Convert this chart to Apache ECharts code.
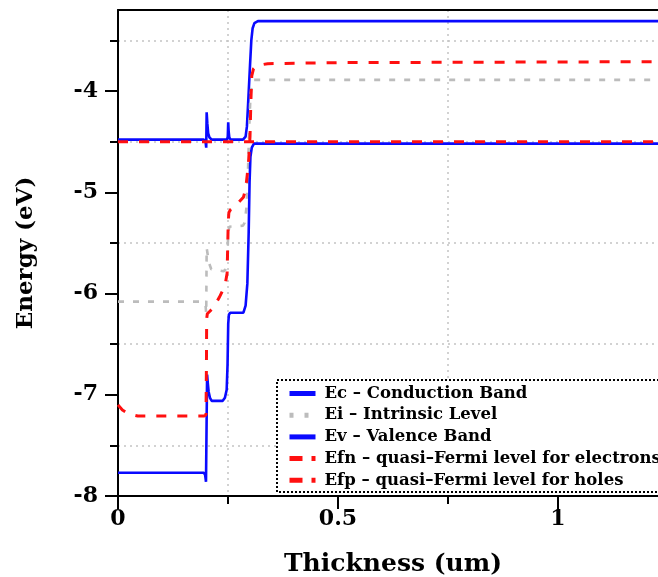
<!DOCTYPE html>
<html><head><meta charset="utf-8">
<script src="https://cdn.jsdelivr.net/npm/echarts@6/dist/echarts.min.js"></script>
<style>html,body{margin:0;padding:0;background:#fff;}#c{width:658px;height:577px;}</style>
</head><body><div id="c"></div>
<script>
// ---- data (x in um, y in eV) ----
const seriesNames = [
  'Ec \u2013 Conduction Band',
  'Ei \u2013 Intrinsic Level',
  'Ev \u2013 Valence Band',
  'Efn \u2013 quasi\u2013Fermi level for electrons',
  'Efp \u2013 quasi\u2013Fermi level for holes'
];
const ecData = [[0,-4.48],[0.195,-4.48],[0.199,-4.50],[0.2005,-4.56],[0.2015,-4.21],[0.203,-4.32],[0.205,-4.42],[0.208,-4.46],[0.213,-4.48],[0.248,-4.48],[0.2495,-4.45],[0.2505,-4.31],[0.2515,-4.40],[0.253,-4.46],[0.256,-4.48],[0.284,-4.48],[0.29,-4.45],[0.293,-4.35],[0.296,-4.1],[0.3,-3.75],[0.303,-3.5],[0.306,-3.38],[0.31,-3.33],[0.318,-3.31],[1.25,-3.31]];
const eiData = [[0,-6.08],[0.19,-6.08],[0.196,-6.09],[0.199,-6.12],[0.2005,-6.2],[0.2015,-5.55],[0.204,-5.62],[0.207,-5.7],[0.212,-5.76],[0.24,-5.78],[0.245,-5.76],[0.248,-5.7],[0.2505,-5.4],[0.253,-5.34],[0.256,-5.33],[0.284,-5.33],[0.288,-5.3],[0.292,-5.15],[0.295,-4.85],[0.298,-4.4],[0.301,-4.05],[0.304,-3.93],[0.308,-3.89],[1.25,-3.89]];
const evData = [[0,-7.77],[0.195,-7.77],[0.198,-7.79],[0.2,-7.86],[0.2015,-7.86],[0.2025,-6.80],[0.204,-6.88],[0.206,-6.97],[0.209,-7.03],[0.213,-7.06],[0.238,-7.06],[0.243,-7.03],[0.247,-6.95],[0.249,-6.7],[0.2505,-6.3],[0.252,-6.21],[0.255,-6.19],[0.285,-6.19],[0.29,-6.12],[0.294,-5.9],[0.297,-5.4],[0.299,-4.9],[0.301,-4.65],[0.304,-4.56],[0.309,-4.52],[1.25,-4.52]];
const efnData = [[0,-4.50],[0.3,-4.50],[0.7,-4.50],[1.25,-4.50]];
const efpData = [[0,-7.1],[0.01,-7.15],[0.025,-7.19],[0.045,-7.21],[0.195,-7.21],[0.2,-7.2],[0.201,-6.7],[0.2015,-6.25],[0.203,-6.2],[0.21,-6.17],[0.22,-6.12],[0.23,-6.04],[0.238,-5.97],[0.244,-5.9],[0.248,-5.8],[0.2505,-5.3],[0.252,-5.2],[0.256,-5.17],[0.27,-5.12],[0.285,-5.05],[0.29,-4.97],[0.294,-4.82],[0.297,-4.68],[0.3,-4.45],[0.302,-4.1],[0.304,-3.85],[0.308,-3.78],[0.315,-3.75],[0.34,-3.73],[0.5,-3.72],[1.25,-3.71]];
const yMajorTicks = [-8,-7,-6,-5,-4];
const yMinorTicks = [-7.5,-6.5,-5.5,-4.5,-3.5];
const xMajorTicks = [0,0.5,1];
const xMinorTicks = [0.25,0.75,1.25];

// ---- styling ----
const FONT = "'DejaVu Serif', 'Liberation Serif', serif";
const BLUE = '#0a0aff', RED = '#ff1010', GRAY = '#bcbcbc';
const gridLine = {show:true, lineStyle:{color:'#c4c4c4', width:1.5, type:[2,4]}};
const labelStyle = {fontFamily:FONT, fontWeight:'bold', fontSize:22, color:'#000'};

const chart = echarts.init(document.getElementById('c'), null, {renderer:'canvas'});
chart.setOption({
  animation:false,
  backgroundColor:'#fff',
  grid:{left:118, top:10, width:550, height:486, outerBoundsMode:'none', containLabel:false, show:false},
  xAxis:[{
    type:'value', min:0, max:1.25, interval:0.25, position:'bottom',
    axisLine:{show:true, onZero:false, lineStyle:{color:'#000', width:2}},
    axisTick:{show:true, customValues:xMinorTicks, length:8, lineStyle:{color:'#000', width:2}},
    axisLabel:Object.assign({customValues:xMajorTicks, margin:12}, labelStyle),
    splitLine:gridLine,
    name:'Thickness (um)', nameLocation:'middle', nameGap:56,
    nameTextStyle:{fontFamily:FONT, fontWeight:'bold', fontSize:25, color:'#000'}
  },{
    type:'value', min:0, max:1.25, interval:0.25, position:'bottom',
    axisLine:{show:false, onZero:false},
    axisTick:{show:true, customValues:xMajorTicks, length:13, lineStyle:{color:'#000', width:2}},
    axisLabel:{show:false}, splitLine:{show:false}
  },{
    type:'value', min:0, max:1.25, interval:0.25, position:'top',
    axisLine:{show:true, onZero:false, lineStyle:{color:'#000', width:2}},
    axisTick:{show:false}, axisLabel:{show:false}, splitLine:{show:false}
  }],
  yAxis:[{
    type:'value', min:-8, max:-3.2, interval:0.5, position:'left',
    axisLine:{show:true, onZero:false, lineStyle:{color:'#000', width:2}},
    axisTick:{show:true, customValues:yMinorTicks, length:8, lineStyle:{color:'#000', width:2}},
    axisLabel:Object.assign({customValues:yMajorTicks, margin:20}, labelStyle),
    splitLine:gridLine,
    name:'Energy (eV)', nameLocation:'middle', nameGap:80,
    nameTextStyle:{fontFamily:FONT, fontWeight:'bold', fontSize:23, color:'#000'}
  },{
    type:'value', min:-8, max:-3.2, interval:0.5, position:'left',
    axisLine:{show:false, onZero:false},
    axisTick:{show:true, customValues:yMajorTicks, length:13, lineStyle:{color:'#000', width:2}},
    axisLabel:{show:false}, splitLine:{show:false}
  }],
  graphic:[{
    type:'rect', z:3, silent:true,
    shape:{x:277, y:380, width:440, height:112},
    style:{fill:'#fff', stroke:'#000', lineWidth:2, lineDash:[2,2]}
  }],
  legend:{
    z:6, orient:'vertical', left:277, top:380,
    padding:[5,10,4,10], itemGap:4.7, itemWidth:26, itemHeight:16,
    backgroundColor:'transparent', borderWidth:0,
    itemStyle:{color:'transparent', borderColor:'transparent', borderWidth:0},
    textStyle:{fontFamily:FONT, fontWeight:'bold', fontSize:16.5, lineHeight:16, color:'#000', padding:[0,0,0,4]},
    data:[
      {name:seriesNames[0], lineStyle:{width:5, type:'solid', color:BLUE}},
      {name:seriesNames[1], lineStyle:{width:5, type:[4,11], color:GRAY}},
      {name:seriesNames[2], lineStyle:{width:5, type:'solid', color:BLUE}},
      {name:seriesNames[3], lineStyle:{width:5, type:[13,9], color:RED}},
      {name:seriesNames[4], lineStyle:{width:5, type:[13,9], color:RED}}
    ]
  },
  series:[
    {name:seriesNames[0], type:'line', data:ecData, symbol:'none', lineStyle:{color:BLUE, width:2.6}, itemStyle:{color:BLUE}},
    {name:seriesNames[1], type:'line', data:eiData, symbol:'none', lineStyle:{color:GRAY, width:2.6, type:[6,9]}, itemStyle:{color:GRAY}},
    {name:seriesNames[2], type:'line', data:evData, symbol:'none', lineStyle:{color:BLUE, width:2.6}, itemStyle:{color:BLUE}},
    {name:seriesNames[3], type:'line', data:efnData, symbol:'none', lineStyle:{color:RED, width:3, type:[10,11]}, itemStyle:{color:RED}},
    {name:seriesNames[4], type:'line', data:efpData, symbol:'none', lineStyle:{color:RED, width:3, type:[10,11]}, itemStyle:{color:RED}}
  ]
});
</script></body></html>
